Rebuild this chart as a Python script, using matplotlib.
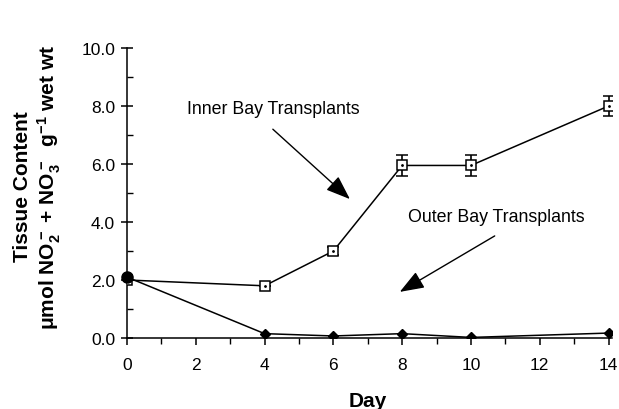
import matplotlib
matplotlib.use("Agg")
import matplotlib.pyplot as plt
from matplotlib.ticker import MultipleLocator

plt.rcParams['font.family'] = ['Liberation Sans', 'DejaVu Sans']
plt.rcParams['mathtext.fontset'] = 'custom'
plt.rcParams['mathtext.bf'] = 'Liberation Sans:bold'
plt.rcParams['mathtext.rm'] = 'Liberation Sans:bold'
plt.rcParams['mathtext.default'] = 'bf'

days_inner = [0, 4, 6, 8, 10, 14]
inner = [2.0, 1.8, 3.0, 5.95, 5.95, 8.0]
inner_err = [0.0, 0.0, 0.15, 0.35, 0.35, 0.35]
days_outer = [0, 4, 6, 8, 10, 14]
outer = [2.1, 0.15, 0.07, 0.15, 0.02, 0.17]

x_ticks = [0, 2, 4, 6, 8, 10, 12, 14]
y_ticks = [0, 2, 4, 6, 8, 10]
y_ticklabels = ["0.0", "2.0", "4.0", "6.0", "8.0", "10.0"]

fig = plt.figure(figsize=(6.19, 4.10), dpi=100)
ax = fig.add_axes([127/619, 71/410, (612-127)/619, (339-49)/410])

ax.plot(days_outer, outer, color='black', lw=1.1, marker='D', markersize=5,
        markerfacecolor='black', markeredgecolor='black', zorder=3)
ax.errorbar(days_inner, inner, yerr=inner_err, color='black', lw=1.1,
            marker='s', markersize=7.5, markerfacecolor='white',
            markeredgecolor='black', markeredgewidth=1.1,
            ecolor='black', elinewidth=1.2, capsize=4, capthick=1.6, zorder=5)
ax.plot(days_inner[1:], inner[1:], linestyle='none', marker='.', markersize=2,
        color='black', zorder=6)
ax.plot([days_outer[0]], [outer[0]], 'o', color='black', markersize=8,
        clip_on=False, zorder=7)

ax.set_xlim(0, 14.1)
ax.set_ylim(0, 10)
ax.set_xticks(x_ticks)
ax.set_yticks(y_ticks)
ax.set_yticklabels(y_ticklabels)
ax.xaxis.set_minor_locator(MultipleLocator(1))
ax.yaxis.set_minor_locator(MultipleLocator(1))
ax.spines['top'].set_visible(False)
ax.spines['right'].set_visible(False)
ax.spines['left'].set_linewidth(1.1)
ax.spines['bottom'].set_linewidth(1.1)
ax.tick_params(axis='x', which='major', direction='out', length=5, width=1.1,
               labelsize=12.5, pad=9)
ax.tick_params(axis='x', which='minor', direction='out', length=4, width=1.0)
ax.tick_params(axis='y', which='major', direction='inout', length=8, width=1.1,
               labelsize=12.5, pad=4.5)
ax.tick_params(axis='y', which='minor', direction='in', length=4, width=1.0)

fig.text(368/619, 1 - 402/410, 'Day', fontsize=15, fontweight='bold',
         ha='center', va='center')
fig.text(38/619, 1 - 187/410,
         'Tissue Content\n'
         r'$\mathbf{\mu}$mol NO$_2^-$ + NO$_3^-$  g$^{-1}$ wet wt',
         fontsize=15, fontweight='bold', rotation=90, ha='center',
         va='center', multialignment='center', linespacing=1.15)

astyle = '-|>,head_length=0.75,head_width=0.28'
ax.text(4.24, 7.9, 'Inner Bay Transplants', fontsize=12.8,
        ha='center', va='center')
ax.annotate('', xy=(6.48, 4.79), xytext=(4.24, 7.2),
            arrowprops=dict(arrowstyle=astyle, color='black', lw=1.0,
                            mutation_scale=20, shrinkA=0, shrinkB=0))
ax.text(10.75, 4.2, 'Outer Bay Transplants', fontsize=12.8,
        ha='center', va='center')
ax.annotate('', xy=(7.93, 1.59), xytext=(10.69, 3.52),
            arrowprops=dict(arrowstyle=astyle, color='black', lw=1.0,
                            mutation_scale=20, shrinkA=0, shrinkB=0))

fig.savefig('out.png', dpi=100)
